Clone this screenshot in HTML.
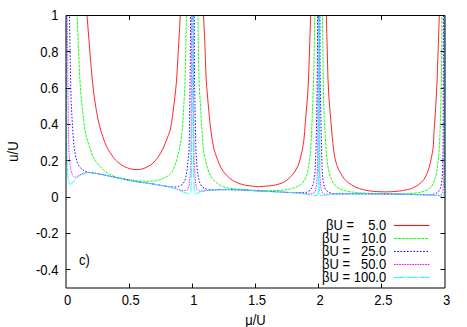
<!DOCTYPE html>
<html><head><meta charset="utf-8"><style>
html,body{margin:0;padding:0;background:#fff;}
svg{display:block;}
text{font-family:"Liberation Sans",sans-serif;fill:#000;}
</style></head><body>
<svg width="467" height="327" viewBox="0 0 467 327">
<rect width="467" height="327" fill="#fff"/>
<clipPath id="c"><rect x="66.0" y="15.5" width="379.0" height="272.5"/></clipPath>
<path d="M129.5 288.0 V283.5 M129.5 15.5 V20.0" class="t" stroke="#000" stroke-width="1" fill="none"/>
<path d="M192.5 288.0 V283.5 M192.5 15.5 V20.0" class="t" stroke="#000" stroke-width="1" fill="none"/>
<path d="M255.5 288.0 V283.5 M255.5 15.5 V20.0" class="t" stroke="#000" stroke-width="1" fill="none"/>
<path d="M318.5 288.0 V283.5 M318.5 15.5 V20.0" class="t" stroke="#000" stroke-width="1" fill="none"/>
<path d="M381.5 288.0 V283.5 M381.5 15.5 V20.0" class="t" stroke="#000" stroke-width="1" fill="none"/>
<path d="M66.0 269.5 H70.5 M445.0 269.5 H440.5" class="t" stroke="#000" stroke-width="1" fill="none"/>
<path d="M66.0 233.5 H70.5 M445.0 233.5 H440.5" class="t" stroke="#000" stroke-width="1" fill="none"/>
<path d="M66.0 197.5 H70.5 M445.0 197.5 H440.5" class="t" stroke="#000" stroke-width="1" fill="none"/>
<path d="M66.0 160.5 H70.5 M445.0 160.5 H440.5" class="t" stroke="#000" stroke-width="1" fill="none"/>
<path d="M66.0 124.5 H70.5 M445.0 124.5 H440.5" class="t" stroke="#000" stroke-width="1" fill="none"/>
<path d="M66.0 88.5 H70.5 M445.0 88.5 H440.5" class="t" stroke="#000" stroke-width="1" fill="none"/>
<path d="M66.0 51.5 H70.5 M445.0 51.5 H440.5" class="t" stroke="#000" stroke-width="1" fill="none"/>
<path d="M66.0 15.5 H70.5 M445.0 15.5 H440.5" class="t" stroke="#000" stroke-width="1" fill="none"/>
<g clip-path="url(#c)">
<path d="M86.60 10.00 C86.73 11.83 86.86 13.67 87.00 15.50 C87.86 26.33 88.71 37.17 89.60 48.00 C90.48 58.67 91.24 69.35 92.30 80.00 C93.01 87.15 93.85 94.29 94.90 101.40 C95.82 107.63 96.96 113.83 98.20 120.00 C98.90 123.46 99.77 126.89 100.70 130.30 C101.24 132.26 101.95 134.17 102.60 136.10 C103.25 138.01 103.87 139.92 104.60 141.80 C105.37 143.76 106.17 145.71 107.10 147.60 C107.87 149.15 108.76 150.64 109.70 152.10 C110.93 154.01 112.19 155.92 113.60 157.70 C114.76 159.16 116.01 160.56 117.40 161.80 C118.86 163.10 120.43 164.29 122.10 165.30 C123.81 166.33 125.64 167.17 127.50 167.90 C128.95 168.47 130.46 168.92 132.00 169.20 C133.65 169.49 135.33 169.63 137.00 169.60 C138.68 169.57 140.37 169.38 142.00 169.00 C143.39 168.68 144.71 168.09 146.00 167.50 C147.48 166.82 148.96 166.12 150.30 165.20 C151.68 164.25 152.93 163.10 154.10 161.90 C155.50 160.46 156.82 158.93 158.00 157.30 C159.19 155.65 160.20 153.87 161.20 152.10 C162.14 150.44 163.03 148.74 163.80 147.00 C164.73 144.91 165.47 142.74 166.30 140.60 C166.97 138.87 167.64 137.14 168.30 135.40 C168.94 133.70 169.81 132.07 170.20 130.30 C171.21 125.71 171.84 121.05 172.50 116.40 C173.31 110.71 173.96 105.01 174.60 99.30 C175.32 92.87 176.10 86.45 176.60 80.00 C177.30 70.94 177.68 61.87 178.20 52.80 C178.91 40.33 179.63 27.87 180.30 15.40 C180.40 13.60 180.43 11.80 180.50 10.00" fill="none" stroke="#ff0000" stroke-width="0.85"/>
<path d="M203.30 10.00 C203.37 11.80 203.42 13.60 203.50 15.40 C203.92 24.30 204.43 33.20 204.80 42.10 C205.33 54.73 205.58 67.37 206.20 80.00 C206.45 85.01 206.98 90.00 207.40 95.00 C207.88 100.70 208.34 106.41 208.90 112.10 C209.54 118.54 210.10 124.99 211.00 131.40 C211.87 137.63 212.77 143.87 214.20 150.00 C214.95 153.20 216.34 156.22 217.50 159.30 C218.51 161.99 219.31 164.79 220.70 167.30 C222.19 169.99 223.99 172.56 226.10 174.80 C228.32 177.16 230.77 179.41 233.60 181.00 C236.92 182.86 240.60 184.12 244.30 185.00 C248.48 186.00 252.82 186.14 257.10 186.60 C257.83 186.68 258.57 186.65 259.30 186.60 C263.57 186.32 267.85 186.12 272.10 185.60 C274.10 185.35 276.07 184.87 278.00 184.30 C280.11 183.67 282.29 183.10 284.20 182.00 C286.34 180.77 288.26 179.14 290.00 177.40 C291.94 175.46 293.73 173.32 295.20 171.00 C296.75 168.56 298.04 165.93 299.00 163.20 C300.19 159.83 300.86 156.30 301.60 152.80 C302.50 148.56 303.37 144.30 303.90 140.00 C304.60 134.29 304.82 128.53 305.30 122.80 C306.02 114.23 306.86 105.67 307.50 97.10 C307.93 91.41 308.28 85.71 308.50 80.00 C309.34 58.47 309.96 36.93 310.70 15.40 C310.76 13.60 310.83 11.80 310.90 10.00" fill="none" stroke="#ff0000" stroke-width="0.85"/>
<path d="M326.10 10.00 C326.17 11.80 326.25 13.60 326.30 15.40 C326.88 36.93 327.31 58.47 328.00 80.00 C328.18 85.71 328.50 91.41 328.90 97.10 C329.50 105.67 330.24 114.24 331.00 122.80 C331.81 131.87 332.54 140.95 333.60 150.00 C333.98 153.23 334.50 156.45 335.30 159.60 C336.14 162.90 337.08 166.21 338.50 169.30 C339.96 172.48 341.86 175.46 343.90 178.30 C345.01 179.85 346.47 181.14 347.90 182.40 C348.98 183.35 350.16 184.17 351.40 184.90 C353.17 185.94 355.00 186.91 356.90 187.70 C358.55 188.38 360.27 188.86 362.00 189.30 C364.64 189.97 367.29 190.68 370.00 191.00 C374.74 191.55 379.52 191.85 384.30 191.90 C388.57 191.95 392.85 191.72 397.10 191.30 C400.69 190.95 404.27 190.36 407.80 189.60 C409.55 189.22 411.27 188.65 412.90 187.90 C414.92 186.97 416.93 185.95 418.70 184.60 C420.63 183.13 422.50 181.48 423.90 179.50 C425.54 177.19 426.69 174.54 427.70 171.90 C428.83 168.95 429.54 165.86 430.30 162.80 C431.04 159.79 431.66 156.75 432.20 153.70 C432.66 151.15 433.08 148.58 433.30 146.00 C433.65 141.84 433.64 137.66 433.90 133.50 C434.34 126.36 434.97 119.24 435.40 112.10 C436.04 101.40 436.67 90.71 437.10 80.00 C437.97 58.47 438.56 36.93 439.30 15.40 C439.36 13.60 439.43 11.80 439.50 10.00" fill="none" stroke="#ff0000" stroke-width="0.85"/>
<path d="M76.90 10.00 C76.97 11.83 77.02 13.67 77.10 15.50 C78.02 37.00 78.77 58.51 79.90 80.00 C80.27 87.15 80.92 94.28 81.60 101.40 C82.28 108.55 83.07 115.68 84.00 122.80 C84.57 127.12 85.07 131.47 86.10 135.70 C87.28 140.56 89.06 145.25 90.60 150.00 C91.29 152.15 91.85 154.35 92.80 156.40 C93.66 158.25 94.80 159.95 96.00 161.60 C97.38 163.50 98.94 165.25 100.50 167.00 C101.51 168.12 102.54 169.23 103.70 170.20 C105.35 171.57 107.03 172.94 108.90 174.00 C110.92 175.15 113.09 176.06 115.30 176.80 C117.38 177.50 119.56 177.83 121.70 178.30 C123.83 178.77 125.95 179.23 128.10 179.60 C130.26 179.97 132.43 180.26 134.60 180.50 C136.73 180.73 138.86 180.88 141.00 181.00 C143.13 181.12 145.27 181.20 147.40 181.20 C149.67 181.20 151.95 181.25 154.20 181.00 C156.16 180.78 158.13 180.43 160.00 179.80 C162.12 179.09 164.12 178.04 166.10 177.00 C167.29 176.37 168.46 175.66 169.50 174.80 C170.48 173.98 171.45 173.10 172.10 172.00 C173.21 170.12 173.94 168.04 174.70 166.00 C175.64 163.47 176.46 160.90 177.20 158.30 C177.93 155.73 178.62 153.13 179.10 150.50 C180.25 144.16 181.43 137.81 182.10 131.40 C183.00 122.86 183.30 114.27 183.80 105.70 C184.30 97.14 184.85 88.57 185.10 80.00 C185.72 58.47 185.97 36.93 186.40 15.40 C186.44 13.60 186.47 11.80 186.50 10.00" fill="none" stroke="#00ff00" stroke-width="0.9" stroke-dasharray="2.9 1"/>
<path d="M197.80 10.00 C197.83 11.80 197.87 13.60 197.90 15.40 C198.27 36.93 198.42 58.47 199.00 80.00 C199.19 87.14 199.78 94.27 200.20 101.40 C200.71 109.97 201.22 118.54 201.80 127.10 C202.32 134.74 202.67 142.39 203.50 150.00 C203.87 153.37 204.71 156.68 205.40 160.00 C205.78 161.84 206.16 163.69 206.70 165.50 C207.43 167.97 208.22 170.42 209.20 172.80 C209.99 174.70 210.89 176.57 212.00 178.30 C212.61 179.25 213.48 180.02 214.30 180.80 C215.31 181.76 216.39 182.66 217.50 183.50 C218.46 184.23 219.42 184.98 220.50 185.50 C222.13 186.29 223.86 186.90 225.60 187.40 C227.27 187.87 228.99 188.15 230.70 188.40 C232.82 188.71 234.96 188.90 237.10 189.10 C239.26 189.30 241.43 189.45 243.60 189.60 C246.40 189.79 249.20 189.94 252.00 190.10 C254.43 190.24 256.86 190.42 259.30 190.50 C262.17 190.59 265.03 190.61 267.90 190.60 C272.17 190.58 276.44 190.62 280.70 190.40 C282.85 190.29 284.98 189.98 287.10 189.60 C289.29 189.21 291.48 188.78 293.60 188.10 C295.36 187.54 297.11 186.85 298.70 185.90 C300.14 185.03 301.46 183.93 302.60 182.70 C303.61 181.61 304.39 180.31 305.10 179.00 C305.90 177.53 306.63 176.00 307.10 174.40 C307.67 172.45 307.84 170.40 308.20 168.40 C308.58 166.27 309.01 164.14 309.30 162.00 C309.84 158.01 310.45 154.02 310.70 150.00 C311.48 137.38 311.88 124.74 312.40 112.10 C312.84 101.40 313.33 90.70 313.60 80.00 C314.13 58.47 314.40 36.93 314.80 15.40 C314.83 13.60 314.87 11.80 314.90 10.00" fill="none" stroke="#00ff00" stroke-width="0.9" stroke-dasharray="2.9 1"/>
<path d="M322.40 10.00 C322.43 11.80 322.48 13.60 322.50 15.40 C322.78 36.93 322.97 58.47 323.30 80.00 C323.47 90.70 323.57 101.41 324.00 112.10 C324.51 124.74 325.27 137.37 326.10 150.00 C326.37 154.01 326.79 158.01 327.30 162.00 C327.69 165.02 328.13 168.03 328.80 171.00 C329.39 173.61 330.02 176.25 331.10 178.70 C332.11 180.99 333.41 183.17 335.00 185.10 C336.08 186.42 337.51 187.46 339.00 188.30 C340.85 189.35 342.84 190.18 344.90 190.70 C348.44 191.59 352.07 192.12 355.70 192.50 C360.45 192.99 365.23 193.09 370.00 193.30 C375.00 193.52 380.00 193.70 385.00 193.80 C390.00 193.90 395.00 193.94 400.00 193.90 C403.33 193.87 406.67 193.82 410.00 193.60 C412.81 193.42 415.63 193.19 418.40 192.70 C420.57 192.32 422.75 191.81 424.80 191.00 C426.74 190.23 428.88 189.53 430.30 188.00 C432.14 186.02 433.21 183.41 434.20 180.90 C435.36 177.97 436.12 174.89 436.70 171.80 C437.49 167.57 437.85 163.28 438.30 159.00 C438.75 154.67 439.16 150.34 439.40 146.00 C439.83 138.27 440.07 130.54 440.30 122.80 C440.73 108.54 441.17 94.27 441.40 80.00 C441.74 58.47 441.78 36.93 442.00 15.40 C442.02 13.60 442.07 11.80 442.10 10.00" fill="none" stroke="#00ff00" stroke-width="0.9" stroke-dasharray="2.9 1"/>
<path d="M69.40 10.00 C69.43 11.83 69.47 13.67 69.50 15.50 C69.87 37.00 70.17 58.50 70.60 80.00 C70.74 87.13 70.92 94.27 71.20 101.40 C71.48 108.54 71.88 115.67 72.30 122.80 C72.55 127.10 72.85 131.40 73.20 135.70 C73.59 140.47 73.88 145.25 74.50 150.00 C74.85 152.70 75.44 155.36 76.10 158.00 C76.61 160.07 77.06 162.19 78.00 164.10 C78.82 165.77 79.98 167.28 81.30 168.60 C82.39 169.69 83.73 170.51 85.10 171.20 C86.32 171.82 87.66 172.22 89.00 172.50 C90.74 172.86 92.54 172.82 94.30 173.10 C97.15 173.55 99.97 174.13 102.80 174.70 C106.38 175.43 109.93 176.23 113.50 177.00 C117.07 177.77 120.63 178.57 124.20 179.30 C127.79 180.04 131.38 180.79 135.00 181.40 C138.55 181.99 142.13 182.40 145.70 182.90 C147.13 183.10 148.57 183.27 150.00 183.50 C153.57 184.07 157.13 184.71 160.70 185.30 C163.80 185.81 166.88 186.42 170.00 186.80 C171.52 186.99 173.07 187.09 174.60 187.00 C175.89 186.92 177.18 186.71 178.40 186.30 C179.77 185.84 181.23 185.37 182.30 184.40 C183.44 183.36 184.20 181.92 184.80 180.50 C185.48 178.88 185.75 177.12 186.10 175.40 C186.62 172.85 187.06 170.28 187.40 167.70 C187.73 165.14 187.87 162.57 188.10 160.00 C188.40 156.67 188.92 153.35 189.00 150.00 C189.58 126.67 189.82 103.33 190.10 80.00 C190.36 58.47 190.45 36.93 190.60 15.40 C190.61 13.60 190.60 11.80 190.60 10.00" fill="none" stroke="#0000ff" stroke-width="0.9" stroke-dasharray="1.6 1.64"/>
<path d="M194.30 10.00 C194.30 11.80 194.29 13.60 194.30 15.40 C194.39 36.93 194.34 58.47 194.60 80.00 C194.88 103.34 195.35 126.67 195.90 150.00 C195.98 153.34 196.27 156.67 196.50 160.00 C196.67 162.57 196.82 165.14 197.10 167.70 C197.42 170.71 197.72 173.73 198.30 176.70 C198.75 179.01 199.25 181.35 200.20 183.50 C200.84 184.94 201.76 186.33 203.00 187.30 C204.45 188.43 206.24 189.07 208.00 189.60 C209.28 189.99 210.66 189.99 212.00 190.00 C214.00 190.02 216.00 189.73 218.00 189.70 C222.33 189.63 226.67 189.63 231.00 189.70 C235.20 189.77 239.40 189.92 243.60 190.10 C247.87 190.28 252.13 190.57 256.40 190.80 C260.23 191.01 264.07 191.21 267.90 191.40 C272.17 191.61 276.43 191.78 280.70 192.00 C285.00 192.22 289.30 192.55 293.60 192.70 C294.87 192.75 296.13 192.61 297.40 192.60 C299.53 192.58 301.67 192.74 303.80 192.60 C305.12 192.51 306.47 192.39 307.70 191.90 C308.70 191.50 309.59 190.80 310.30 190.00 C311.12 189.07 311.71 187.94 312.20 186.80 C312.78 185.45 313.18 184.03 313.50 182.60 C313.91 180.79 314.14 178.94 314.40 177.10 C314.64 175.41 314.89 173.71 315.00 172.00 C315.22 168.67 315.25 165.33 315.40 162.00 C315.58 158.00 315.91 154.00 316.00 150.00 C316.51 126.67 316.92 103.34 317.20 80.00 C317.46 58.47 317.48 36.93 317.60 15.40 C317.61 13.60 317.60 11.80 317.60 10.00" fill="none" stroke="#0000ff" stroke-width="0.9" stroke-dasharray="1.6 1.64"/>
<path d="M320.00 10.00 C320.00 11.80 319.99 13.60 320.00 15.40 C320.06 36.93 319.94 58.47 320.20 80.00 C320.48 103.34 321.12 126.67 321.60 150.00 C321.68 154.00 321.75 158.00 321.90 162.00 C322.05 166.27 322.19 170.54 322.50 174.80 C322.69 177.38 322.90 179.96 323.40 182.50 C323.84 184.71 324.24 187.01 325.30 189.00 C326.00 190.31 327.25 191.30 328.50 192.10 C329.54 192.77 330.82 192.93 332.00 193.30 C332.72 193.53 333.44 193.88 334.20 193.90 C339.46 194.05 344.73 193.78 350.00 193.80 C364.27 193.85 378.53 193.91 392.80 194.10 C403.50 194.24 414.20 194.66 424.90 194.80 C427.03 194.83 429.18 194.85 431.30 194.60 C432.83 194.42 434.41 194.17 435.80 193.50 C437.04 192.90 438.20 192.02 439.00 190.90 C439.95 189.58 440.48 187.97 440.90 186.40 C441.46 184.31 441.68 182.15 441.90 180.00 C442.25 176.58 442.43 173.14 442.60 169.70 C442.73 167.14 442.73 164.57 442.80 162.00 C442.90 158.00 443.08 154.00 443.10 150.00 C443.24 126.67 443.23 103.33 443.30 80.00 C443.36 58.47 443.44 36.93 443.50 15.40 C443.51 13.60 443.50 11.80 443.50 10.00" fill="none" stroke="#0000ff" stroke-width="0.9" stroke-dasharray="1.6 1.64"/>
<path d="M67.20 10.00 C67.20 11.83 67.18 13.67 67.20 15.50 C67.42 37.00 67.68 58.50 67.90 80.00 C68.05 94.27 68.10 108.53 68.30 122.80 C68.43 131.87 68.54 140.94 68.90 150.00 C69.07 154.28 69.46 158.54 69.90 162.80 C70.16 165.38 70.41 167.97 71.00 170.50 C71.42 172.30 72.01 174.08 72.90 175.70 C73.31 176.44 73.96 177.29 74.80 177.40 C75.73 177.52 76.56 176.72 77.40 176.30 C78.29 175.85 79.10 175.24 80.00 174.80 C81.17 174.23 82.35 173.67 83.60 173.30 C84.97 172.90 86.38 172.53 87.80 172.50 C89.98 172.46 92.15 172.78 94.30 173.10 C97.15 173.52 99.97 174.13 102.80 174.70 C106.38 175.43 109.93 176.23 113.50 177.00 C117.07 177.77 120.63 178.57 124.20 179.30 C127.79 180.04 131.38 180.79 135.00 181.40 C138.55 181.99 142.13 182.40 145.70 182.90 C147.13 183.10 148.57 183.27 150.00 183.50 C153.57 184.07 157.14 184.67 160.70 185.30 C164.27 185.93 167.88 186.42 171.40 187.30 C173.66 187.86 175.76 188.95 178.00 189.60 C179.31 189.98 180.65 190.20 182.00 190.40 C182.93 190.54 183.87 190.70 184.80 190.60 C185.70 190.50 186.73 190.42 187.40 189.80 C188.16 189.10 188.42 187.99 188.70 187.00 C189.06 185.73 189.14 184.40 189.30 183.10 C189.57 180.97 189.82 178.84 190.00 176.70 C190.25 173.70 190.44 170.70 190.60 167.70 C190.74 165.14 190.88 162.57 190.90 160.00 C191.14 133.33 191.27 106.67 191.40 80.00 C191.50 58.47 191.54 36.93 191.60 15.40 C191.61 13.60 191.60 11.80 191.60 10.00" fill="none" stroke="#ff00ff" stroke-width="0.8" stroke-dasharray="1.7 0.9"/>
<path d="M193.30 10.00 C193.30 11.80 193.29 13.60 193.30 15.40 C193.36 36.93 193.38 58.47 193.50 80.00 C193.65 106.67 193.70 133.34 194.10 160.00 C194.16 164.27 194.63 168.53 194.90 172.80 C195.09 175.80 195.20 178.81 195.50 181.80 C195.70 183.75 195.90 185.71 196.40 187.60 C196.65 188.54 196.90 189.65 197.70 190.20 C198.77 190.94 200.20 191.04 201.50 191.10 C203.24 191.18 204.97 190.78 206.70 190.60 C208.47 190.41 210.23 190.14 212.00 190.00 C214.00 189.84 216.00 189.73 218.00 189.70 C222.33 189.63 226.67 189.63 231.00 189.70 C235.20 189.77 239.40 189.92 243.60 190.10 C247.87 190.28 252.13 190.57 256.40 190.80 C260.23 191.01 264.07 191.21 267.90 191.40 C272.17 191.61 276.43 191.78 280.70 192.00 C285.00 192.22 289.30 192.45 293.60 192.70 C295.73 192.82 297.87 192.92 300.00 193.10 C302.14 193.28 304.26 193.69 306.40 193.80 C308.20 193.89 310.02 193.97 311.80 193.70 C312.73 193.56 313.75 193.28 314.40 192.60 C315.15 191.81 315.44 190.66 315.70 189.60 C316.17 187.70 316.40 185.75 316.60 183.80 C316.90 180.81 317.06 177.80 317.20 174.80 C317.40 170.54 317.56 166.27 317.60 162.00 C317.83 134.67 317.91 107.33 318.00 80.00 C318.07 58.47 318.07 36.93 318.10 15.40 C318.10 13.60 318.10 11.80 318.10 10.00" fill="none" stroke="#ff00ff" stroke-width="0.8" stroke-dasharray="1.7 0.9"/>
<path d="M319.50 10.00 C319.50 11.80 319.50 13.60 319.50 15.40 C319.53 36.93 319.56 58.47 319.60 80.00 C319.66 107.33 319.71 134.67 319.80 162.00 C319.81 166.27 319.75 170.54 319.90 174.80 C320.02 178.24 320.26 181.68 320.60 185.10 C320.79 187.05 320.99 189.01 321.50 190.90 C321.73 191.75 322.18 192.58 322.80 193.20 C323.33 193.73 324.06 194.09 324.80 194.20 C326.19 194.40 327.60 194.14 329.00 194.10 C330.73 194.04 332.47 193.92 334.20 193.90 C339.47 193.82 344.73 193.78 350.00 193.80 C364.27 193.85 378.53 193.91 392.80 194.10 C403.50 194.24 414.20 194.52 424.90 194.80 C427.03 194.86 429.17 194.98 431.30 195.10 C433.43 195.22 435.56 195.57 437.70 195.50 C438.79 195.47 439.94 195.33 440.90 194.80 C441.67 194.38 442.33 193.63 442.60 192.80 C443.13 191.17 443.05 189.41 443.20 187.70 C443.39 185.57 443.54 183.44 443.60 181.30 C443.78 174.87 443.88 168.43 443.90 162.00 C444.05 113.13 444.04 64.27 444.10 15.40 C444.10 13.60 444.10 11.80 444.10 10.00" fill="none" stroke="#ff00ff" stroke-width="0.8" stroke-dasharray="1.7 0.9"/>
<path d="M66.50 10.00 C66.50 11.83 66.50 13.67 66.50 15.50 C66.60 60.33 66.48 105.17 66.80 150.00 C66.85 156.67 67.24 163.34 67.60 170.00 C67.78 173.34 67.96 176.69 68.40 180.00 C68.59 181.43 68.96 182.86 69.50 184.20 C69.62 184.49 69.99 184.76 70.30 184.70 C70.79 184.60 71.15 184.15 71.50 183.80 C72.65 182.65 73.67 181.37 74.80 180.20 C76.07 178.87 77.20 177.37 78.70 176.30 C80.24 175.20 82.04 174.50 83.80 173.80 C85.09 173.29 86.42 172.79 87.80 172.70 C89.97 172.56 92.15 172.81 94.30 173.10 C97.16 173.48 99.97 174.13 102.80 174.70 C106.38 175.43 109.93 176.23 113.50 177.00 C117.07 177.77 120.63 178.57 124.20 179.30 C127.79 180.04 131.38 180.79 135.00 181.40 C138.55 181.99 142.13 182.40 145.70 182.90 C147.13 183.10 148.57 183.27 150.00 183.50 C153.57 184.07 157.14 184.67 160.70 185.30 C164.27 185.93 167.88 186.42 171.40 187.30 C173.66 187.86 175.84 188.73 178.00 189.60 C179.91 190.37 181.69 191.43 183.60 192.20 C184.83 192.70 186.08 193.28 187.40 193.40 C188.29 193.48 189.51 193.54 190.00 192.80 C190.91 191.44 190.93 189.63 191.00 188.00 C191.43 178.67 191.40 169.33 191.50 160.00 C191.80 133.33 192.06 106.67 192.20 80.00 C192.31 58.47 192.23 36.93 192.25 15.40 C192.25 13.60 192.25 11.80 192.25 10.00" fill="none" stroke="#00ffff" stroke-width="0.9" stroke-dasharray="3.8 0.5 5.5 1.2 1 1.2"/>
<path d="M192.70 10.00 C192.70 11.80 192.70 13.60 192.70 15.40 C192.72 36.93 192.63 58.47 192.75 80.00 C192.90 106.67 193.16 133.33 193.50 160.00 C193.61 168.57 193.70 177.14 194.10 185.70 C194.23 188.48 193.88 191.49 195.10 194.00 C195.50 194.82 196.85 193.43 197.70 193.10 C198.98 192.60 200.18 191.87 201.50 191.50 C203.19 191.03 204.96 190.85 206.70 190.60 C208.46 190.35 210.23 190.14 212.00 190.00 C214.00 189.84 216.00 189.73 218.00 189.70 C222.33 189.63 226.67 189.63 231.00 189.70 C235.20 189.77 239.40 189.92 243.60 190.10 C247.87 190.28 252.13 190.57 256.40 190.80 C260.23 191.01 264.07 191.21 267.90 191.40 C272.17 191.61 276.43 191.78 280.70 192.00 C285.00 192.22 289.30 192.41 293.60 192.70 C295.74 192.84 297.87 193.03 300.00 193.30 C302.14 193.57 304.27 193.95 306.40 194.30 C308.14 194.58 309.86 194.94 311.60 195.20 C312.73 195.37 313.86 195.60 315.00 195.60 C315.75 195.60 316.78 195.82 317.20 195.20 C318.00 194.01 318.00 192.43 318.10 191.00 C318.36 187.34 318.28 183.67 318.30 180.00 C318.45 146.67 318.53 113.33 318.60 80.00 C318.65 58.47 318.63 36.93 318.65 15.40 C318.65 13.60 318.65 11.80 318.65 10.00" fill="none" stroke="#00ffff" stroke-width="0.9" stroke-dasharray="3.8 0.5 5.5 1.2 1 1.2"/>
<path d="M319.05 10.00 C319.05 11.80 319.05 13.60 319.05 15.40 C319.07 36.93 319.08 58.47 319.10 80.00 C319.13 115.00 318.99 150.00 319.20 185.00 C319.22 188.27 319.25 191.57 319.80 194.80 C319.88 195.27 320.53 195.49 321.00 195.60 C321.75 195.77 322.54 195.68 323.30 195.60 C324.38 195.48 325.43 195.18 326.50 195.00 C328.00 194.75 329.50 194.51 331.00 194.30 C332.06 194.15 333.13 193.93 334.20 193.90 C339.46 193.76 344.73 193.78 350.00 193.80 C364.27 193.85 378.53 193.91 392.80 194.10 C403.50 194.24 414.20 194.52 424.90 194.80 C427.03 194.86 429.17 194.95 431.30 195.10 C434.70 195.35 438.09 195.89 441.50 196.00 C442.28 196.03 443.61 196.26 443.80 195.50 C444.66 192.10 444.29 188.50 444.30 185.00 C444.52 128.47 444.44 71.93 444.50 15.40 C444.50 13.60 444.50 11.80 444.50 10.00" fill="none" stroke="#00ffff" stroke-width="0.9" stroke-dasharray="3.8 0.5 5.5 1.2 1 1.2"/>
</g>
<path d="M66.0 15.5 H445.0 V288.0 H66.0 Z" fill="none" stroke="#000" stroke-width="1"/>
<text transform="translate(67.50,305.20) scale(1,1.1)" text-anchor="middle" font-size="13">0</text>
<text transform="translate(130.67,305.20) scale(1,1.1)" text-anchor="middle" font-size="13">0.5</text>
<text transform="translate(193.83,305.20) scale(1,1.1)" text-anchor="middle" font-size="13">1</text>
<text transform="translate(257.00,305.20) scale(1,1.1)" text-anchor="middle" font-size="13">1.5</text>
<text transform="translate(320.17,305.20) scale(1,1.1)" text-anchor="middle" font-size="13">2</text>
<text transform="translate(383.33,305.20) scale(1,1.1)" text-anchor="middle" font-size="13">2.5</text>
<text transform="translate(446.50,305.20) scale(1,1.1)" text-anchor="middle" font-size="13">3</text>
<text transform="translate(58.40,274.68) scale(1,1.1)" text-anchor="end" font-size="13">-0.4</text>
<text transform="translate(58.40,238.35) scale(1,1.1)" text-anchor="end" font-size="13">-0.2</text>
<text transform="translate(58.40,202.02) scale(1,1.1)" text-anchor="end" font-size="13">0</text>
<text transform="translate(58.40,165.68) scale(1,1.1)" text-anchor="end" font-size="13">0.2</text>
<text transform="translate(58.40,129.35) scale(1,1.1)" text-anchor="end" font-size="13">0.4</text>
<text transform="translate(58.40,93.02) scale(1,1.1)" text-anchor="end" font-size="13">0.6</text>
<text transform="translate(58.40,56.68) scale(1,1.1)" text-anchor="end" font-size="13">0.8</text>
<text transform="translate(58.40,20.35) scale(1,1.1)" text-anchor="end" font-size="13">1</text>
<text transform="translate(255.50,324.60) scale(1,1.1)" text-anchor="middle" font-size="13">μ/U</text>
<text transform="translate(17.8,151.6) rotate(-90) scale(1,1.1)" text-anchor="middle" font-size="13">u/U</text>
<text transform="translate(79.00,265.00) scale(1,1.1)" font-size="13">c)</text>
<text transform="translate(354.00,230.05) scale(1,1.1)" text-anchor="end" font-size="13">βU =</text>
<text transform="translate(386.20,230.05) scale(1,1.1)" text-anchor="end" font-size="13">5.0</text>
<path d="M394 225.45 H429.4" stroke="#ff0000" stroke-width="1" fill="none"/>
<text transform="translate(350.06,243.05) scale(1,1.1)" text-anchor="end" font-size="13">βU =</text>
<text transform="translate(386.20,243.05) scale(1,1.1)" text-anchor="end" font-size="13">10.0</text>
<path d="M394 238.45 H429.4" stroke="#00ff00" stroke-width="1" fill="none" stroke-dasharray="2.9 1"/>
<text transform="translate(350.06,256.05) scale(1,1.1)" text-anchor="end" font-size="13">βU =</text>
<text transform="translate(386.20,256.05) scale(1,1.1)" text-anchor="end" font-size="13">25.0</text>
<path d="M394 251.45 H429.4" stroke="#0000ff" stroke-width="1" fill="none" stroke-dasharray="1.6 1.64"/>
<text transform="translate(350.06,269.05) scale(1,1.1)" text-anchor="end" font-size="13">βU =</text>
<text transform="translate(386.20,269.05) scale(1,1.1)" text-anchor="end" font-size="13">50.0</text>
<path d="M394 264.45 H429.4" stroke="#ff00ff" stroke-width="1" fill="none" stroke-dasharray="1.7 0.9"/>
<text transform="translate(350.06,282.05) scale(1,1.1)" text-anchor="end" font-size="13">βU =</text>
<text transform="translate(386.20,282.05) scale(1,1.1)" text-anchor="end" font-size="13">100.0</text>
<path d="M394 277.45 H429.4" stroke="#00ffff" stroke-width="1" fill="none" stroke-dasharray="3.8 0.5 5.5 1.2 1 1.2"/>
</svg>
</body></html>
